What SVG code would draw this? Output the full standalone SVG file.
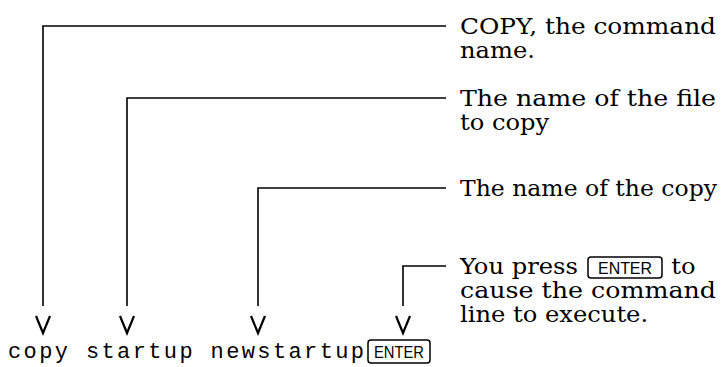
<svg xmlns="http://www.w3.org/2000/svg" width="723" height="367" viewBox="0 0 723 367">
<style>
.ln{fill:none;stroke:#000;stroke-width:1.6}
.ah{fill:none;stroke:#000;stroke-width:2.2;stroke-linejoin:miter}
.lbl{font-family:"DejaVu Serif","Liberation Serif",serif;font-size:22px;fill:#000}
.cmd{font-family:"Liberation Mono","DejaVu Sans Mono",monospace;font-size:22px;fill:#000}
.key{fill:none;stroke:#000;stroke-width:1.5}
.keyt{font-family:"Liberation Sans","DejaVu Sans",sans-serif;font-size:16px;fill:#000}
</style>
<rect width="723" height="367" fill="#fff"/>
<g id="connectors">
<polyline class="ln" points="446,26 43,26 43,306"/>
<polyline class="ah" points="36,316 43,333 50,316"/>
<polyline class="ln" points="446,98 127,98 127,306"/>
<polyline class="ah" points="120,316 127,333 134,316"/>
<polyline class="ln" points="446,188 258,188 258,306"/>
<polyline class="ah" points="251,316 258,333 265,316"/>
<polyline class="ln" points="446,266 403,266 403,306"/>
<polyline class="ah" points="396,316 403,333 410,316"/>
</g>
<g id="label-copy">
<text class="lbl" x="460" y="34" textLength="256" lengthAdjust="spacingAndGlyphs">COPY, the command</text>
<text class="lbl" x="460" y="58" transform="translate(460,0) scale(1.1,1) translate(-460,0)">name.</text>
</g>
<g id="label-file">
<text class="lbl" x="460" y="106" textLength="256" lengthAdjust="spacingAndGlyphs">The name of the file</text>
<text class="lbl" x="460" y="130" transform="translate(460,0) scale(1.1,1) translate(-460,0)">to copy</text>
</g>
<g id="label-newfile">
<text class="lbl" x="460" y="196" textLength="257" lengthAdjust="spacingAndGlyphs">The name of the copy</text>
</g>
<g id="label-enter">
<g transform="translate(460,0) scale(1.1,1) translate(-460,0)">
<text class="lbl" x="460" y="274">You press</text>
<text class="lbl" x="652" y="274">to</text>
<text class="lbl" x="460" y="322">line to execute.</text>
</g>
<text class="lbl" x="460" y="298" textLength="256" lengthAdjust="spacingAndGlyphs">cause the command</text>
<rect class="key" x="588" y="257" width="74" height="21" rx="3"/>
<text class="keyt" x="625" y="274" text-anchor="middle" textLength="54" lengthAdjust="spacingAndGlyphs">ENTER</text>
</g>
<g id="command-line">
<text class="cmd" x="8" y="358" textLength="356" lengthAdjust="spacing">copy startup newstartup</text>
<rect class="key" x="368" y="340" width="62" height="23" rx="3"/>
<text class="keyt" x="399" y="358" text-anchor="middle" textLength="50" lengthAdjust="spacingAndGlyphs">ENTER</text>
</g>
</svg>
